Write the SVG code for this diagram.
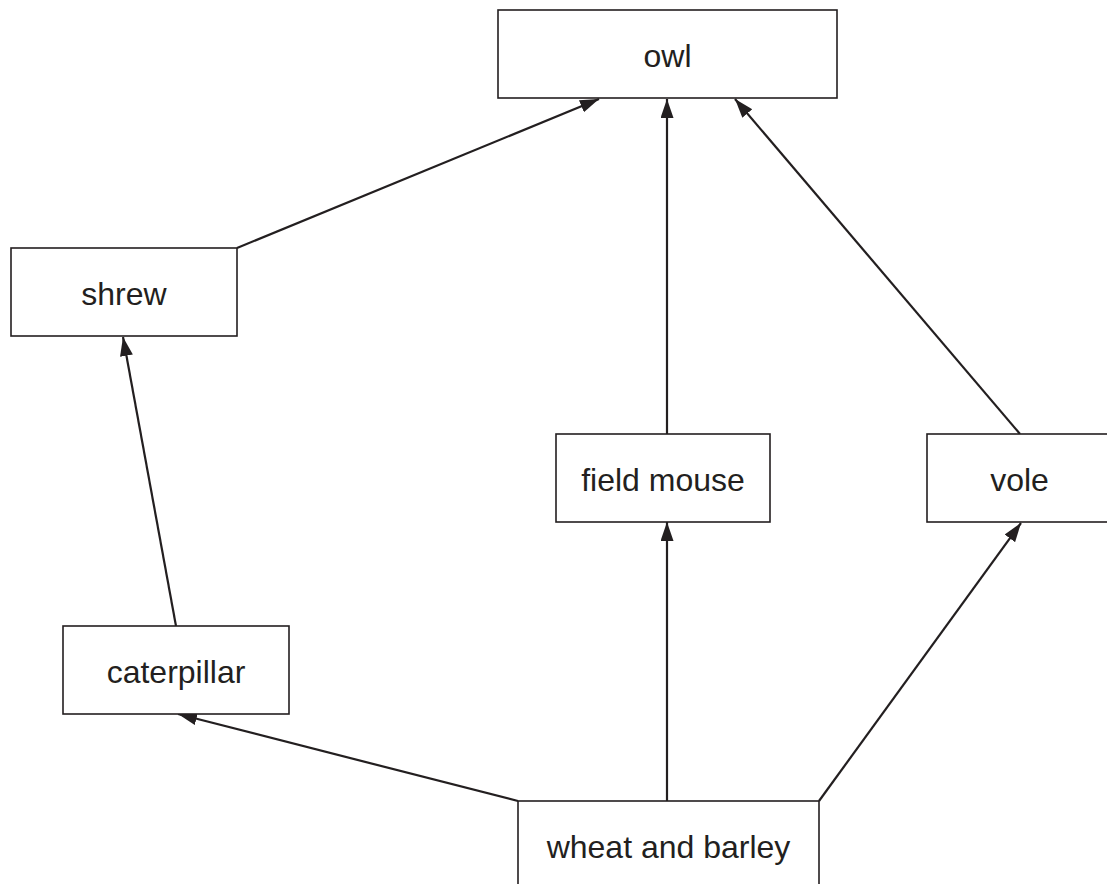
<svg xmlns="http://www.w3.org/2000/svg" width="1107" height="884" viewBox="0 0 1107 884">
<style>
.box{fill:#fff;stroke:#231f20;stroke-width:1.6}
.lbl{font-family:"Liberation Sans",Arial,sans-serif;font-size:32px;fill:#231f20;text-anchor:middle}
.edge{stroke:#231f20;stroke-width:2.2;fill:none;marker-end:url(#ah)}
</style>
<defs>
<marker id="ah" markerUnits="userSpaceOnUse" markerWidth="20" markerHeight="14" refX="19" refY="6.5" orient="auto">
<path d="M0,0 L19,6.5 L0,13 z" fill="#231f20"/>
</marker>
</defs>
<rect width="1107" height="884" fill="#fff"/>
<g id="connectors">
<line class="edge" x1="237" y1="248" x2="599" y2="99"/>
<line class="edge" x1="667" y1="434" x2="667" y2="99"/>
<line class="edge" x1="1020" y1="434" x2="735" y2="99"/>
<line class="edge" x1="176" y1="626" x2="123" y2="337"/>
<line class="edge" x1="518" y1="801" x2="178" y2="714"/>
<line class="edge" x1="667" y1="801" x2="667" y2="522"/>
<line class="edge" x1="819" y1="801" x2="1021" y2="523"/>
</g>
<g id="owl"><rect class="box" x="498" y="10" width="339" height="88"/><text class="lbl" x="667.5" y="67">owl</text></g>
<g id="shrew"><rect class="box" x="11" y="248" width="226" height="88"/><text class="lbl" x="124" y="305">shrew</text></g>
<g id="field-mouse"><rect class="box" x="556" y="434" width="214" height="88"/><text class="lbl" x="663" y="491">field mouse</text></g>
<g id="vole"><rect class="box" x="927" y="434" width="185" height="88"/><text class="lbl" x="1019.5" y="491">vole</text></g>
<g id="caterpillar"><rect class="box" x="63" y="626" width="226" height="88"/><text class="lbl" x="176" y="683">caterpillar</text></g>
<g id="wheat-and-barley"><rect class="box" x="518" y="801" width="301" height="88"/><text class="lbl" x="668.5" y="858">wheat and barley</text></g>
</svg>
